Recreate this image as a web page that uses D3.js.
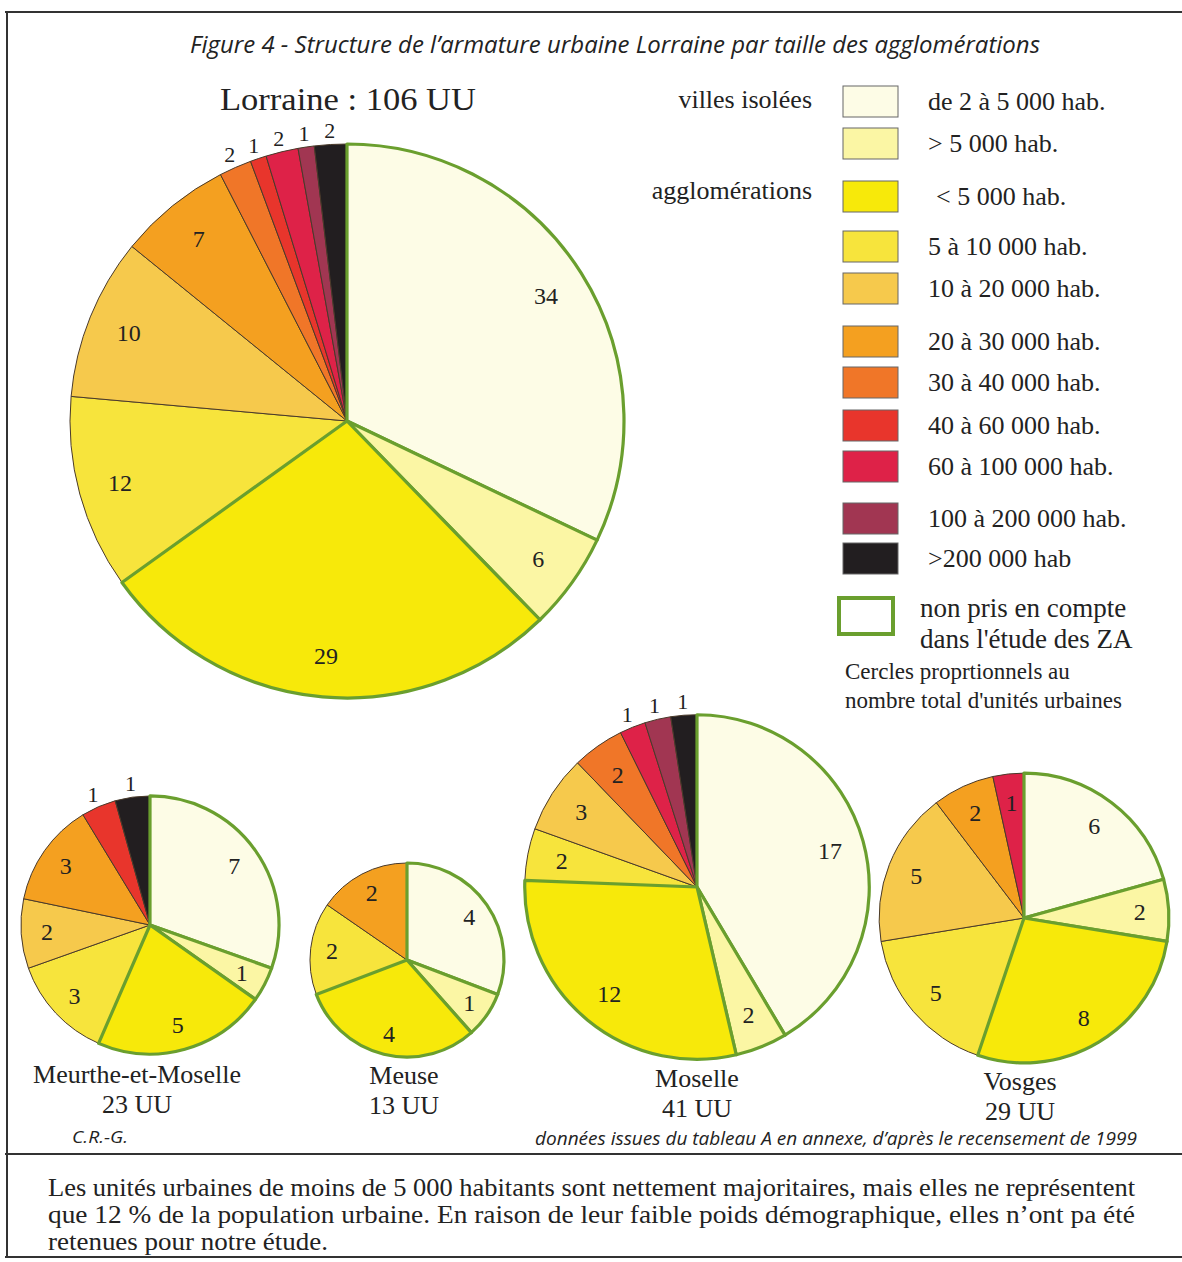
<!DOCTYPE html>
<html><head><meta charset="utf-8">
<script src="https://cdn.jsdelivr.net/npm/d3@7"></script>
<style>
body{margin:0;background:#fff;}
svg{display:block;}
.serif{font-family:"Liberation Serif","Times New Roman",serif;fill:#222;}
.sans{font-family:"Liberation Sans Narrow","Open Sans",sans-serif;fill:#222;}
</style></head>
<body>
<svg id="chart" width="1182" height="1262"></svg>
<script>
// ---- data ----
const categories = ["de 2 à 5 000 hab.", "> 5 000 hab.", " < 5 000 hab.", "5 à 10 000 hab.", "10 à 20 000 hab.",
  "20 à 30 000 hab.", "30 à 40 000 hab.", "40 à 60 000 hab.", "60 à 100 000 hab.", "100 à 200 000 hab.", ">200 000 hab"];
const colors = ["#fdfce6", "#fbf6a4", "#f7e90a", "#f7e43c", "#f6c94c", "#f4a020", "#f07628", "#e8352c", "#de2248", "#a13652", "#221e20"];
const excluded = [true, true, true, false, false, false, false, false, false, false, false];
const regionNames = ["Lorraine", "Meurthe-et-Moselle", "Meuse", "Moselle", "Vosges"];
const lorraine = [34, 6, 29, 12, 10, 7, 2, 1, 2, 1, 2];
const meurthe  = [7, 1, 5, 3, 2, 3, 0, 1, 0, 0, 1];
const meuse    = [4, 1, 4, 2, 0, 2, 0, 0, 0, 0, 0];
const moselle  = [17, 2, 12, 2, 3, 0, 2, 0, 1, 1, 1];
const vosges   = [6, 2, 8, 5, 5, 2, 0, 0, 1, 0, 0];

// ---- layout ----
const svg = d3.select("#chart");
const GREEN = "#6a9f2e";
const total = a => d3.sum(a);
const rScale = d3.scaleSqrt().domain([0, 106]).range([0, 277]);

const pies = [
  {values: lorraine, cx: 347, cy: 421, labelR: 0.85, outside: [6,7,8,9,10]},
  {values: meurthe, cx: 150, cy: 925, labelR: 0.8, outside: [7,10], name: regionNames[1], nx: 137, ny: 1083},
  {values: meuse, cx: 407, cy: 960, labelR: 0.78, outside: [], name: regionNames[2], nx: 404, ny: 1084},
  {values: moselle, cx: 697, cy: 887, labelR: 0.8, outside: [8,9,10], name: regionNames[3], nx: 697, ny: 1087},
  {values: vosges, cx: 1024, cy: 918, labelR: 0.8, outside: [], name: regionNames[4], nx: 1020, ny: 1090}
];

const pieGen = d3.pie().sort(null).value(d => d.v);

pies.forEach(p => {
  const n = total(p.values);
  const r = rScale(n);
  const data = pieGen(p.values.map((v, i) => ({v, i})));
  const arc = d3.arc().innerRadius(0).outerRadius(r);
  const g = svg.append("g").attr("transform", `translate(${p.cx},${p.cy})`);
  const nz = data.filter(d => d.data.v > 0);
  g.selectAll("path.s").data(nz.filter(d => !excluded[d.data.i])).join("path")
    .attr("d", arc).attr("fill", d => colors[d.data.i])
    .attr("stroke", "#4a3a2a").attr("stroke-width", 1);
  g.selectAll("path.e").data(nz.filter(d => excluded[d.data.i])).join("path")
    .attr("d", arc).attr("fill", d => colors[d.data.i])
    .attr("stroke", GREEN).attr("stroke-width", 3.2).attr("stroke-linejoin", "round");
  const inArc = d3.arc().innerRadius(r * p.labelR).outerRadius(r * p.labelR);
  const outArc = d3.arc().innerRadius(r + 14).outerRadius(r + 14);
  g.selectAll("text").data(nz).join("text")
    .attr("class", "serif")
    .attr("font-size", d => p.outside.includes(d.data.i) ? 22 : 24)
    .attr("text-anchor", "middle")
    .attr("dy", "0.35em")
    .attr("transform", d => {
      const c = (p.outside.includes(d.data.i) ? outArc : inArc).centroid(d);
      return `translate(${c[0]},${c[1]})`;
    })
    .text(d => d.data.v);
  if (p.name) {
    svg.append("text").attr("class", "serif").attr("font-size", 26).attr("text-anchor", "middle")
      .attr("x", p.nx).attr("y", p.ny).text(p.name);
    svg.append("text").attr("class", "serif").attr("font-size", 26).attr("text-anchor", "middle")
      .attr("x", p.nx).attr("y", p.ny + 30).text(n + " UU");
  }
});

// ---- frame ----
svg.append("line").attr("x1", 5).attr("x2", 1182).attr("y1", 12).attr("y2", 12).attr("stroke", "#333").attr("stroke-width", 2);
svg.append("line").attr("x1", 7).attr("x2", 7).attr("y1", 12).attr("y2", 1258).attr("stroke", "#333").attr("stroke-width", 2);
svg.append("line").attr("x1", 5).attr("x2", 1182).attr("y1", 1154).attr("y2", 1154).attr("stroke", "#333").attr("stroke-width", 2);
svg.append("line").attr("x1", 5).attr("x2", 1182).attr("y1", 1257).attr("y2", 1257).attr("stroke", "#333").attr("stroke-width", 2);

// ---- titles ----
svg.append("text").attr("class", "sans").attr("font-style", "italic").attr("font-size", 23)
  .attr("x", 190).attr("y", 53).attr("textLength", 850).attr("lengthAdjust", "spacingAndGlyphs")
  .text("Figure 4 - Structure de l’armature urbaine Lorraine par taille des agglomérations");
svg.append("text").attr("class", "serif").attr("font-size", 31)
  .attr("x", 220).attr("y", 110).attr("textLength", 256).attr("lengthAdjust", "spacingAndGlyphs")
  .text(regionNames[0] + " : " + total(lorraine) + " UU");

// ---- legend ----
const swTop = [86, 128, 181, 231, 273, 326, 367, 410, 451, 503, 543];
const leg = svg.append("g");
leg.selectAll("rect").data(categories).join("rect")
  .attr("x", 843).attr("y", (d, i) => swTop[i]).attr("width", 55).attr("height", 31)
  .attr("fill", (d, i) => colors[i]).attr("stroke", "#666").attr("stroke-width", 1);
leg.selectAll("text").data(categories).join("text")
  .attr("class", "serif").attr("font-size", 26)
  .attr("x", d => d.startsWith(" ") ? 936 : 928).attr("y", (d, i) => swTop[i] + 24)
  .text(d => d.trim());
svg.append("text").attr("class", "serif").attr("font-size", 26).attr("text-anchor", "end")
  .attr("x", 812).attr("y", 108).text("villes isolées");
svg.append("text").attr("class", "serif").attr("font-size", 26).attr("text-anchor", "end")
  .attr("x", 812).attr("y", 199).text("agglomérations");
svg.append("rect").attr("x", 839).attr("y", 598).attr("width", 54).attr("height", 36)
  .attr("fill", "#fff").attr("stroke", GREEN).attr("stroke-width", 4);
svg.append("text").attr("class", "serif").attr("font-size", 27).attr("x", 920).attr("y", 617).text("non pris en compte");
svg.append("text").attr("class", "serif").attr("font-size", 27).attr("x", 920).attr("y", 648).text("dans l'étude des ZA");
svg.append("text").attr("class", "serif").attr("font-size", 23).attr("x", 845).attr("y", 679).text("Cercles proprtionnels au");
svg.append("text").attr("class", "serif").attr("font-size", 23).attr("x", 845).attr("y", 708).text("nombre total d'unités urbaines");

// ---- notes ----
svg.append("text").attr("class", "sans").attr("font-style", "italic").attr("font-size", 17)
  .attr("x", 72).attr("y", 1143).attr("textLength", 56).attr("lengthAdjust", "spacingAndGlyphs").text("C.R.-G.");
svg.append("text").attr("class", "sans").attr("font-style", "italic").attr("font-size", 19)
  .attr("x", 535).attr("y", 1145)
  .attr("textLength", 602).attr("lengthAdjust", "spacingAndGlyphs")
  .text("données issues du tableau A en annexe, d’après le recensement de 1999");

const para = [
  ["Les unités urbaines de moins de 5 000 habitants sont nettement majoritaires, mais elles ne représentent", 1087],
  ["que 12 % de la population urbaine. En raison de leur faible poids démographique, elles n’ont pa été", 1087],
  ["retenues pour notre étude.", 280]
];
svg.selectAll("text.para").data(para).join("text").attr("class", "serif para").attr("font-size", 26)
  .attr("x", 48).attr("y", (d, i) => 1196 + i * 27)
  .attr("textLength", d => d[1]).attr("lengthAdjust", "spacingAndGlyphs")
  .text(d => d[0]);
</script>
</body></html>
